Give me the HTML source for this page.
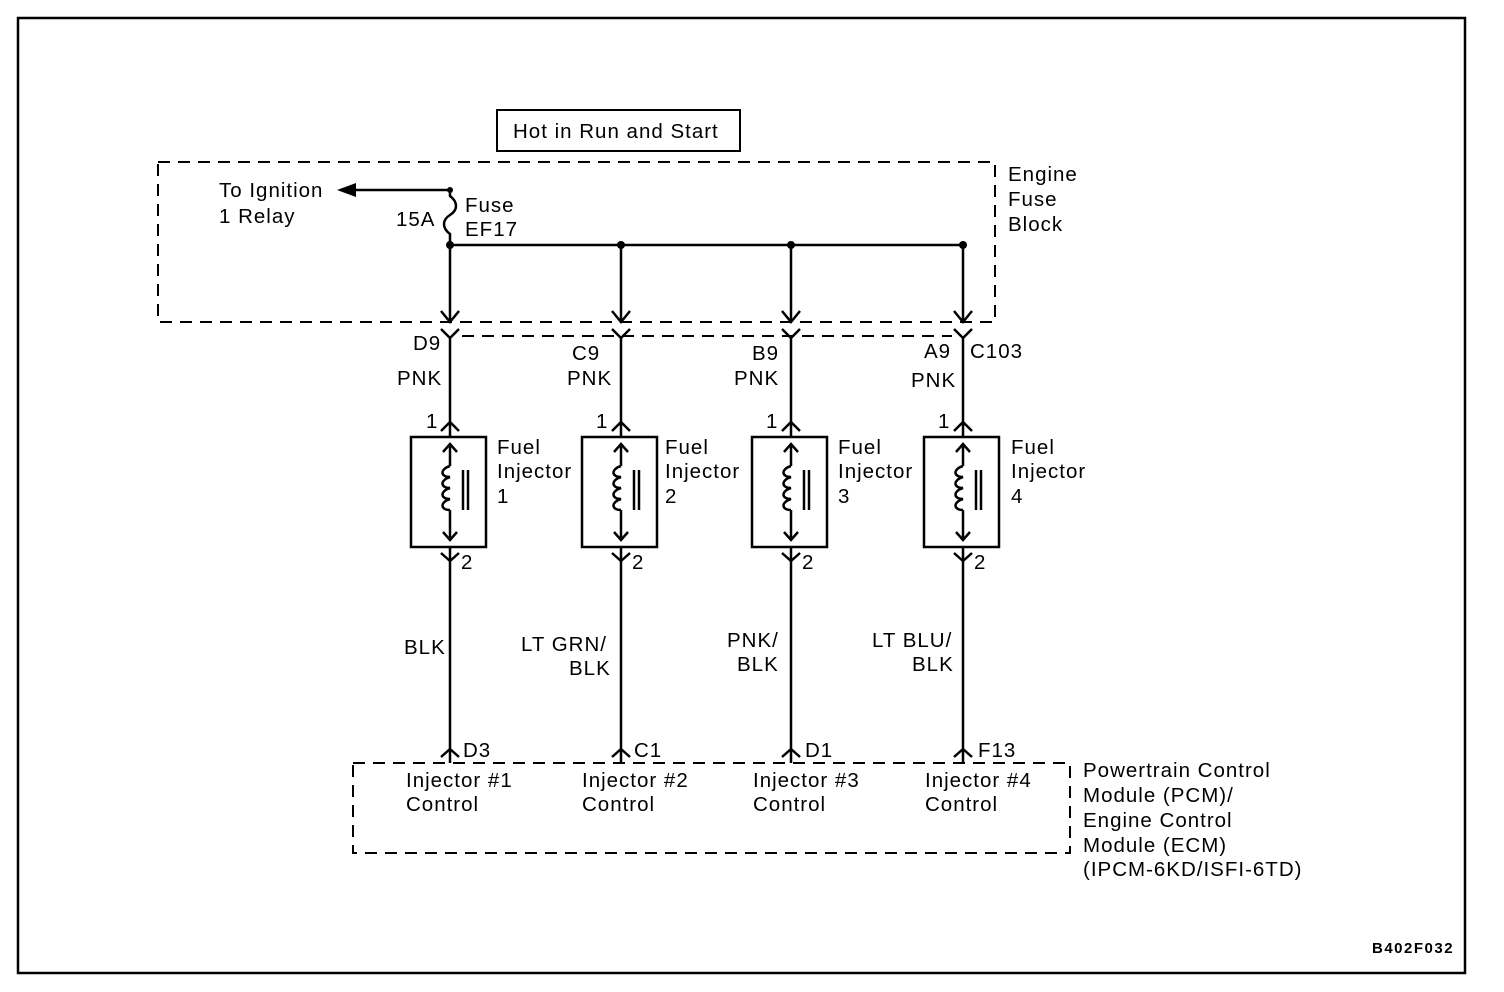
<!DOCTYPE html>
<html><head><meta charset="utf-8"><style>
html,body{margin:0;padding:0;background:#fff;}
svg{display:block;}
text{font-family:"Liberation Sans",Arial,sans-serif;font-size:20.5px;letter-spacing:1px;fill:#000;}
</style></head><body>
<svg width="1504" height="992" viewBox="0 0 1504 992" xmlns="http://www.w3.org/2000/svg">
<rect x="18" y="18" width="1447" height="955" fill="none" stroke="#000" stroke-width="2.5"/>
<rect x="497" y="110" width="243" height="41" fill="none" stroke="#000" stroke-width="2"/>
<text x="513" y="138">Hot in Run and Start</text>
<rect x="158" y="162" width="837" height="160" fill="none" stroke="#000" stroke-width="2" stroke-dasharray="12,8"/>
<line x1="462" y1="336" x2="952" y2="336" stroke="#000" stroke-width="2" stroke-dasharray="12,8"/>
<text x="1008" y="181">Engine</text><text x="1008" y="206">Fuse</text><text x="1008" y="231">Block</text>
<text x="219" y="197">To Ignition</text><text x="219" y="223">1 Relay</text>
<line x1="350" y1="190" x2="450" y2="190" stroke="#000" stroke-width="2.5"/>
<polygon points="337,190 356,183 356,197" fill="#000"/>
<path d="M450,190 L450,196 C458,202 458,210 450,215 C442,220 442,228 450,234 L450,245" fill="none" stroke="#000" stroke-width="2.5"/>
<circle cx="450" cy="190" r="3"/>
<text x="396" y="226">15A</text>
<text x="465" y="212">Fuse</text><text x="465" y="236">EF17</text>
<line x1="450" y1="245" x2="963" y2="245" stroke="#000" stroke-width="2.5"/>
<circle cx="450" cy="245" r="4"/><circle cx="621" cy="245" r="4"/><circle cx="791" cy="245" r="4"/><circle cx="963" cy="245" r="4"/>
<defs>
<g id="inj" fill="none" stroke="#000" stroke-width="2.5">
<line x1="450" y1="245" x2="450" y2="322"/>
<polyline points="441,311 450,322 459,311"/>
<polyline points="441,329 450,338 459,329"/>
<line x1="450" y1="336" x2="450" y2="437"/>
<polyline points="441,431 450,422 459,431"/>
<rect x="411" y="437" width="75" height="110"/>
<line x1="450" y1="444" x2="450" y2="466"/>
<polyline points="443,452 450,444 457,452"/>
<path d="M450,466 C440,469 440,477 450,477 C440,480 440,488 450,488 C440,491 440,499 450,499 C440,502 440,510 450,510"/>
<line x1="450" y1="510" x2="450" y2="540"/>
<polyline points="443,532 450,540 457,532"/>
<line x1="463" y1="470" x2="463" y2="510"/>
<line x1="468" y1="470" x2="468" y2="510"/>
<polyline points="441,553 450,561 459,553"/>
<line x1="450" y1="547" x2="450" y2="763"/>
<polyline points="441,757 450,749 459,757"/>
</g>
</defs>
<use href="#inj"/>
<use href="#inj" transform="translate(171,0)"/>
<use href="#inj" transform="translate(341,0)"/>
<use href="#inj" transform="translate(513,0)"/>
<text x="413" y="350">D9</text><text x="397" y="385">PNK</text><text x="426" y="428">1</text>
<text x="572" y="360">C9</text><text x="567" y="385">PNK</text><text x="596" y="428">1</text>
<text x="752" y="360">B9</text><text x="734" y="385">PNK</text><text x="766" y="428">1</text>
<text x="924" y="358">A9</text><text x="970" y="358">C103</text><text x="911" y="387">PNK</text><text x="938" y="428">1</text>
<text x="497" y="454">Fuel</text><text x="497" y="478">Injector</text><text x="497" y="503">1</text>
<text x="665" y="454">Fuel</text><text x="665" y="478">Injector</text><text x="665" y="503">2</text>
<text x="838" y="454">Fuel</text><text x="838" y="478">Injector</text><text x="838" y="503">3</text>
<text x="1011" y="454">Fuel</text><text x="1011" y="478">Injector</text><text x="1011" y="503">4</text>
<text x="461" y="569">2</text><text x="632" y="569">2</text><text x="802" y="569">2</text><text x="974" y="569">2</text>
<text x="404" y="654">BLK</text>
<text x="521" y="651">LT GRN/</text><text x="569" y="675">BLK</text>
<text x="727" y="647">PNK/</text><text x="737" y="671">BLK</text>
<text x="872" y="647">LT BLU/</text><text x="912" y="671">BLK</text>
<text x="463" y="757">D3</text><text x="634" y="757">C1</text><text x="805" y="757">D1</text><text x="978" y="757">F13</text>
<rect x="353" y="763" width="717" height="90" fill="none" stroke="#000" stroke-width="2" stroke-dasharray="12,8"/>
<text x="406" y="787">Injector #1</text><text x="406" y="811">Control</text>
<text x="582" y="787">Injector #2</text><text x="582" y="811">Control</text>
<text x="753" y="787">Injector #3</text><text x="753" y="811">Control</text>
<text x="925" y="787">Injector #4</text><text x="925" y="811">Control</text>
<text x="1083" y="777">Powertrain Control</text>
<text x="1083" y="802">Module (PCM)/</text>
<text x="1083" y="827">Engine Control</text>
<text x="1083" y="852">Module (ECM)</text>
<text x="1083" y="876">(IPCM-6KD/ISFI-6TD)</text>
<text x="1372" y="953" style="font-size:15px;font-weight:bold;letter-spacing:1.5px">B402F032</text>
</svg>
</body></html>
